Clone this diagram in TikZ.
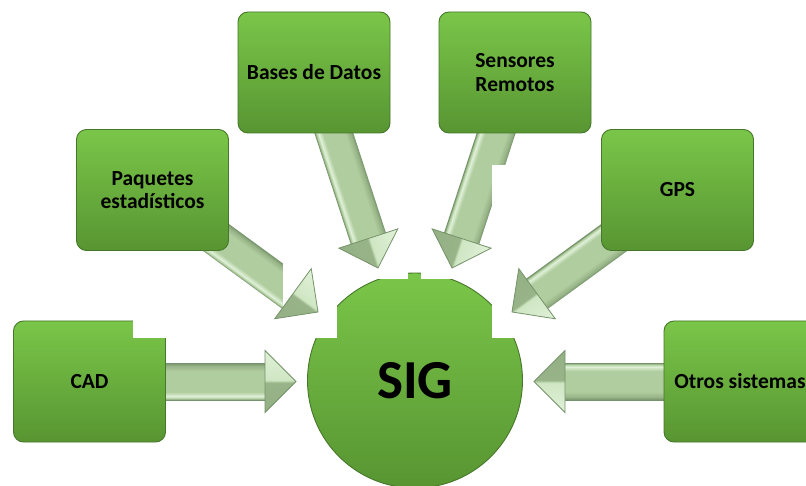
\documentclass[tikz,border=0pt]{standalone}
\usepackage{fontspec}
\setmainfont{Carlito}
\usetikzlibrary{calc}
\definecolor{boxtop}{HTML}{7AC649}
\definecolor{boxbot}{HTML}{589532}
\definecolor{boxedge}{HTML}{46772A}
\definecolor{aedge}{HTML}{76926A}
\definecolor{ahi}{HTML}{E0F1D8}
\definecolor{amid}{HTML}{B0CD9F}
\definecolor{adark}{HTML}{97B387}
\definecolor{hlight}{HTML}{CFE6C3}
\definecolor{hdark}{HTML}{94B085}
\pgfdeclareverticalshading{shaftsh}{100bp}{color(0bp)=(aedge); color(25bp)=(aedge); color(27bp)=(amid); color(30bp)=(ahi); color(36bp)=(amid); color(64bp)=(amid); color(71bp)=(adark); color(75bp)=(aedge); color(100bp)=(aedge)}
\pgfdeclareverticalshading{headsh}{100bp}{color(0bp)=(hdark); color(25bp)=(hdark); color(49bp)=(adark); color(51bp)=(hlight); color(75bp)=(ahi); color(100bp)=(ahi)}
\pgfdeclarelayer{bgwhite}
\pgfdeclarelayer{circ}
\pgfdeclarelayer{shaftlow}
\pgfdeclarelayer{patchA}
\pgfdeclarelayer{arr}
\pgfdeclarelayer{patchB}
\pgfdeclarelayer{toplayer}
\pgfsetlayers{bgwhite,circ,shaftlow,patchA,arr,main,patchB,toplayer}
\newcommand\arrcalc[2]{%
  \path let \p1=(#1), \p2=(#2) in \pgfextra{%
    \pgfmathsetmacro\tmpA{atan2(\y2-\y1,\x2-\x1)}%
    \pgfmathsetmacro\tmpL{veclen(\x2-\x1,\y2-\y1)}%
    \pgfmathsetmacro\tmpX{\x1}\pgfmathsetmacro\tmpY{\y1}%
    \pgfmathsetmacro\tmpB{\tmpL-31}%
    \xdef\Aang{\tmpA}\xdef\Alen{\tmpL}\xdef\Ax{\tmpX}\xdef\Ay{\tmpY}\xdef\Abase{\tmpB}};}
\newcommand\arrshaft{%
  \begin{scope}[transform canvas={shift={(\Ax pt,\Ay pt)},rotate=\Aang}]
    \shade[shading=shaftsh] (0pt,-18.5pt) rectangle (\Abase pt+1pt,18.5pt);
  \end{scope}}
\newcommand\arrhead{%
  \begin{scope}[transform canvas={shift={(\Ax pt,\Ay pt)},rotate=\Aang}]
    \shadedraw[shading=headsh, draw=aedge, line width=0.8pt, line join=miter] (\Abase pt,-31pt) -- (\Alen pt,0pt) -- (\Abase pt,31pt) -- cycle;
  \end{scope}}
\tikzset{
  box/.style={rectangle, rounded corners=10pt, minimum width=152pt, minimum height=121pt,
    top color=boxtop, bottom color=boxbot, draw=boxedge, line width=0.9pt,
    font=\fontsize{21.5}{23.5}\selectfont\bfseries, align=center, text=black, inner sep=0pt},
  hub/.style={circle, minimum size=215pt, inner sep=0pt, top color=boxtop, bottom color=boxbot,
    draw=boxedge, line width=0.9pt, font=\fontsize{55}{60}\selectfont\bfseries, text=black},
  patch/.style={fill=white}
}
\begin{document}
\begin{tikzpicture}[x=1pt,y=-1pt]
\begin{pgfonlayer}{bgwhite}
  \fill[white] (0,0) rectangle (806,486);
\end{pgfonlayer}
\useasboundingbox (0,0) rectangle (806,486);
% nodes
\begin{pgfonlayer}{circ}
  \node[hub] (sig) at (415,380.5) {SIG};
\end{pgfonlayer}
\node[box] (bases) at (314,72.5) {Bases de Datos};
\node[box] (sens) at (515,72.5) {Sensores\\Remotos};
\node[box] (paq) at (152.5,190) {Paquetes\\estadísticos};
\node[box] (gps) at (677.5,190) {GPS};
\node[box] (cad) at (89.5,381.5) {CAD};
\node[box] (otros) at (740,381.5) {Otros sistemas};
% arrow ends
\coordinate (sBases) at ($(bases.center)+(9,27.5)$);
\coordinate (tBases) at (378,268);
\coordinate (sSens) at ($(sens.center)+(-8,27.5)$);
\coordinate (tSens) at (452,268);
\coordinate (sPaq) at ($(paq.center)+(47.5,35.8)$);
\coordinate (tPaq) at (318,312);
\coordinate (sGps) at ($(gps.center)+(-47.5,36)$);
\coordinate (tGps) at (512,312);
\coordinate (sCad) at ($(cad.center)+(60,0)$);
\coordinate (tCad) at (296,381.5);
\coordinate (sOtros) at ($(otros.center)+(-60,0)$);
\coordinate (tOtros) at (534,381.5);
% lower arrows
\begin{pgfonlayer}{shaftlow}
  \arrcalc{sPaq}{tPaq}\arrshaft
  \arrcalc{sSens}{tSens}\arrshaft
\end{pgfonlayer}
\begin{pgfonlayer}{patchA}
  \fill[patch] (283,262) rectangle (337,338);
  \fill[patch] (337,262) rectangle (408,279);
  \fill[patch] (421,262) rectangle (492,279);
  \fill[patch] (492,165) rectangle (601,338);
\end{pgfonlayer}
\begin{pgfonlayer}{arr}
  \arrcalc{sBases}{tBases}\arrshaft\arrhead
  \arrcalc{sGps}{tGps}\arrshaft\arrhead
  \arrcalc{sCad}{tCad}\arrshaft\arrhead
  \arrcalc{sOtros}{tOtros}\arrshaft\arrhead
\end{pgfonlayer}
\begin{pgfonlayer}{patchB}
  \fill[patch] (133,316) rectangle (168,338);
\end{pgfonlayer}
\begin{pgfonlayer}{toplayer}
  \arrcalc{sPaq}{tPaq}\arrhead
  \arrcalc{sSens}{tSens}\arrhead
\end{pgfonlayer}
\end{tikzpicture}
\end{document}
